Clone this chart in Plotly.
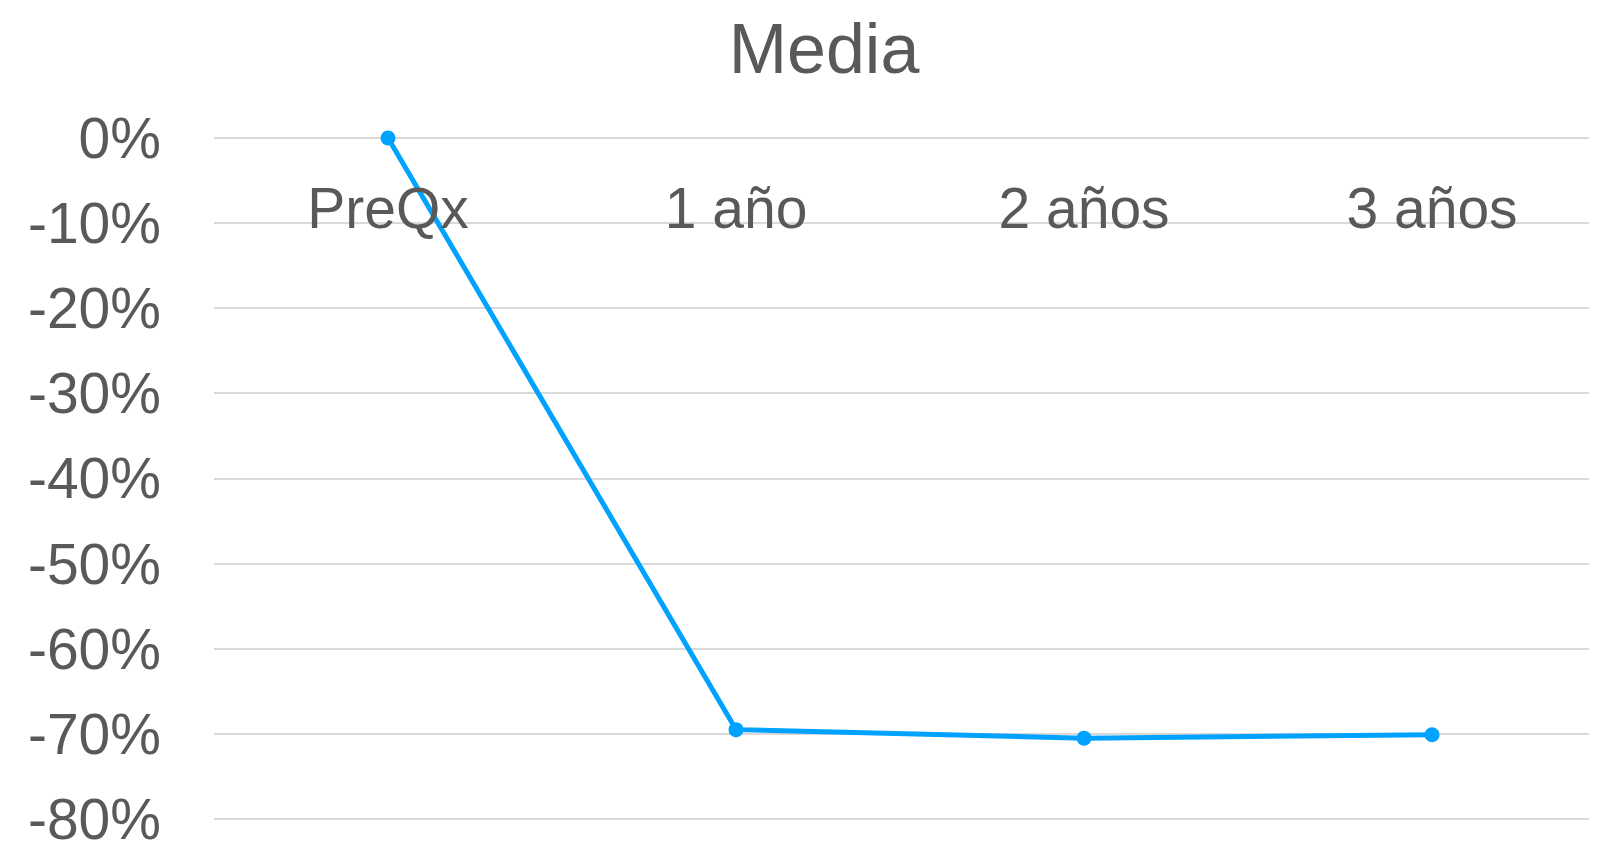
import plotly.graph_objects as go

categories = ["PreQx", "1 año", "2 años", "3 años"]
values = [0.0, -0.695, -0.705, -0.701]
y_tickvals = [0.0, -0.1, -0.2, -0.3, -0.4, -0.5, -0.6, -0.7, -0.8]
y_ticktext = ["0%", "-10%", "-20%", "-30%", "-40%", "-50%", "-60%", "-70%", "-80%"]

TEXT = "#595959"
FONT = "Liberation Sans, Arial, sans-serif"

fig = go.Figure()
fig.add_trace(go.Scatter(
    x=categories, y=values, mode="lines+markers",
    line=dict(color="#00A2FF", width=5),
    marker=dict(color="#00A2FF", size=15),
    cliponaxis=False, showlegend=False,
))

fig.update_layout(
    width=1597, height=843,
    margin=dict(l=206, r=0, t=127, b=27),
    paper_bgcolor="white", plot_bgcolor="white",
    font=dict(family=FONT, color=TEXT),
    title=dict(text="Media", x=816/1597, xref="container", xanchor="center",
               y=1-40/843, yref="container", yanchor="middle",
               font=dict(size=70, color=TEXT, family=FONT)),
    xaxis=dict(type="category", range=[-0.5, 3.497], anchor="free", position=1,
               side="bottom", showgrid=False, showline=False, zeroline=False,
               ticks="", tickfont=dict(size=57, color=TEXT, family=FONT),
               ticklabelstandoff=35),
    yaxis=dict(range=[-0.8035, 0.0035], tickvals=y_tickvals, ticktext=y_ticktext,
               showgrid=True, gridcolor="#D9D9D9", gridwidth=2,
               zeroline=False, showline=False, ticks="",
               tickfont=dict(size=57, color=TEXT, family=FONT),
               ticklabelstandoff=52, ticklabeloverflow="allow"),
)

fig.write_html("out.html")
